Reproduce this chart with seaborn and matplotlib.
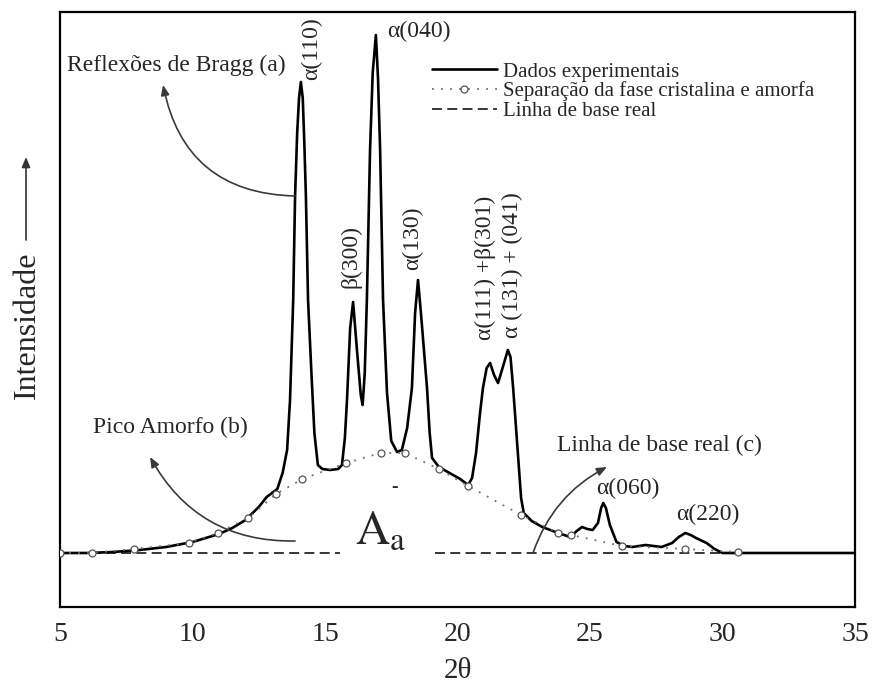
import numpy as np
import pandas as pd
import seaborn as sns
import matplotlib.pyplot as plt
from matplotlib.ticker import MultipleLocator

# experimental XRD pattern (2theta, intensity in arbitrary units above baseline)
exp_2theta = [5.0, 6.0, 7.0, 8.0, 9.0, 10.0, 11.0, 11.5, 12.0, 12.5, 12.8, 13.0, 13.2,
              13.4, 13.57, 13.68, 13.8, 13.87, 13.95, 14.02, 14.09, 14.16, 14.22, 14.28,
              14.36, 14.5, 14.6, 14.73, 14.9, 15.2, 15.5, 15.64, 15.75, 15.83, 15.95,
              16.06, 16.2, 16.35, 16.42, 16.5, 16.58, 16.7, 16.8, 16.92, 17.0, 17.08,
              17.19, 17.34, 17.5, 17.72, 17.9, 18.1, 18.28, 18.4, 18.51, 18.62, 18.85,
              18.95, 19.04, 19.3, 19.7, 20.1, 20.4, 20.55, 20.7, 20.85, 20.96, 21.1,
              21.23, 21.38, 21.53, 21.7, 21.9, 22.0, 22.1, 22.25, 22.4, 22.5, 22.8,
              23.2, 23.5, 23.8, 24.25, 24.5, 24.7, 24.9, 25.1, 25.3, 25.42, 25.5, 25.6,
              25.75, 26.0, 26.3, 26.6, 27.1, 27.4, 27.7, 28.1, 28.35, 28.6, 28.8, 29.0,
              29.4, 29.7, 30.0, 31.0, 35.0]
exp_int = [0, 0, 1, 3, 6, 11, 19, 25, 33, 46, 56, 60, 64,
           80, 103, 153, 253, 356, 420, 455, 471, 455, 410, 356,
           253, 173, 120, 88, 84, 83, 84, 88, 115, 153, 225,
           251, 205, 158, 148, 180, 253, 403, 480, 518, 475, 403,
           253, 160, 112, 101, 103, 125, 165, 240, 273, 240, 165,
           120, 95, 86, 80, 74, 68, 75, 100, 140, 165, 185,
           190, 178, 170, 185, 203, 196, 165, 110, 55, 40, 32,
           26, 23, 20, 16, 22, 26, 24, 23, 30, 45, 50, 45,
           28, 11, 7, 6, 8, 7, 6, 10, 16, 20, 18, 15,
           10, 4, 0, 0, 0]

# amorphous / crystalline separation points (circles)
am_2theta = [5.0, 6.2, 7.8, 9.85, 10.95, 12.1, 13.15, 14.15, 15.8, 17.1, 18.0, 19.3,
             20.4, 22.4, 23.8, 24.3, 26.2, 28.6, 30.6]
am_int = [0, 0, 4, 10, 20, 35, 59, 74, 90, 100, 100, 84, 67, 38, 20, 18, 7, 4, 1]

# real baseline (two dashed pieces, interrupted by the A_a label)
base_left = [5.0, 15.57]
base_right = [19.15, 30.0]

exp_df = pd.DataFrame({"2theta": exp_2theta, "I": exp_int})
am_df = pd.DataFrame({"2theta": am_2theta, "I": am_int})

sns.set_style("white")
plt.rcParams['font.family'] = ['Liberation Serif', 'DejaVu Serif']
plt.rcParams['mathtext.fontset'] = 'stix'

fig = plt.figure(figsize=(8.72, 6.91), dpi=100)
ax = fig.add_axes([60 / 872, 1 - 607 / 691, 795 / 872, 595 / 691])

sns.lineplot(data=exp_df, x="2theta", y="I", sort=False, estimator=None,
             color="black", lw=1.9, label="Dados experimentais", ax=ax, zorder=2)
sns.lineplot(data=am_df, x="2theta", y="I", sort=False, estimator=None,
             color="#707070", lw=1.3, linestyle=(0, (1, 4)), marker="o", markersize=5,
             markerfacecolor="white", markeredgecolor="#555555", markeredgewidth=0.9,
             label="Separação da fase cristalina e amorfa", ax=ax, zorder=3)
ax.plot(base_left, [0, 0], color="black", lw=1.1, linestyle=(0, (6.5, 3.5)),
        label="Linha de base real", zorder=1)
ax.plot(base_right, [0, 0], color="black", lw=1.1, linestyle=(0, (6.5, 3.5)), zorder=1)

ax.set_xlim(5, 35)
ax.set_ylim(-54, 541)
ax.set_xticks(range(5, 36, 5))
ax.xaxis.set_minor_locator(MultipleLocator(1))
ax.tick_params(axis='x', which='major', direction='in', length=9, width=1.3,
               labelsize=20, pad=11, top=False)
ax.tick_params(axis='x', which='minor', direction='in', length=5, width=1.2, top=False)
ax.tick_params(axis='y', left=False, labelleft=False)
for sp in ax.spines.values():
    sp.set_linewidth(1.6)
    sp.set_color("black")
ax.set_xlabel("2θ", fontsize=21, labelpad=8)
ax.set_ylabel("")

# peak labels
pk = dict(fontsize=17, ha="center", va="center")
ax.text(14.51, 504, "α(110)", rotation=90, **pk)
ax.text(17.34, 522, "α(040)", fontsize=17, ha="left", va="center")
ax.text(15.98, 297, "β(300)", rotation=90, **pk)
ax.text(18.32, 315, "α(130)", rotation=90, **pk)
ax.text(21.04, 285, "α(111) +β(301)", rotation=90, **pk)
ax.text(22.06, 288, "α (131) + (041)", rotation=90, **pk)
ax.text(26.43, 65, "α(060)", **pk)
ax.text(29.45, 39, "α(220)", **pk)

# area label
ax.text(16.12, 8, r"$\mathrm{A}_\mathrm{a}$", fontsize=34, ha="left", va="baseline")
ax.text(17.64, 66, "-", fontsize=14, fontweight="bold", ha="center", va="center")

# annotations with curved arrows
arr = dict(arrowstyle="-|>,head_length=0.6,head_width=0.25", color="#3a3a3a", lw=1.2,
           shrinkA=0, shrinkB=0)
ax.text(5.26, 488, "Reflexões de Bragg (a)", fontsize=17, ha="left", va="center")
ax.annotate("", xy=(8.89, 468), xytext=(13.87, 357),
            arrowprops=dict(connectionstyle="arc3,rad=-0.4", **arr))
ax.text(6.25, 126, "Pico Amorfo (b)", fontsize=17, ha="left", va="center")
ax.annotate("", xy=(8.40, 96), xytext=(13.87, 12),
            arrowprops=dict(connectionstyle="arc3,rad=-0.3", **arr))
ax.text(23.75, 108, "Linha de base real (c)", fontsize=17, ha="left", va="center")
ax.annotate("", xy=(25.64, 86), xytext=(22.85, 0),
            arrowprops=dict(connectionstyle="arc3,rad=-0.2", **arr))

ax.legend(loc="upper left", bbox_to_anchor=((432 - 60) / 795, (607 - 62) / 595),
          frameon=False, fontsize=15, handlelength=3.1, handletextpad=0.3,
          labelspacing=0.0, borderpad=0, borderaxespad=0)

# y label with arrow
fig.text(27.5 / 872, 1 - 325 / 691, "Intensidade", rotation=90, fontsize=23,
         ha="center", va="center")
ax.annotate("", xy=(26 / 872, 1 - 157 / 691), xytext=(26 / 872, 1 - 240 / 691),
            xycoords="figure fraction", textcoords="figure fraction",
            annotation_clip=False,
            arrowprops=dict(arrowstyle="-|>,head_length=0.6,head_width=0.25",
                            color="#333333", lw=1.2, shrinkA=0, shrinkB=0))

fig.savefig("out.png", dpi=100, facecolor="white")
